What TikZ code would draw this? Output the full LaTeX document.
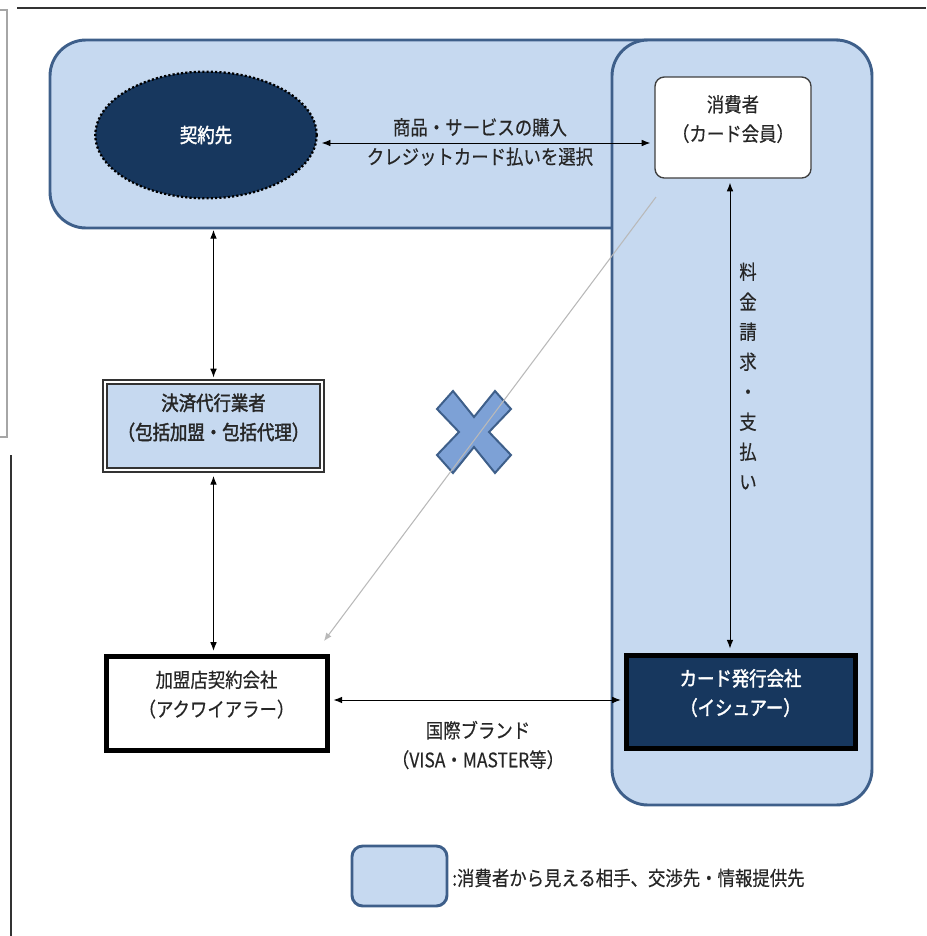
\documentclass[tikz,border=0pt]{standalone}
\usepackage{fontspec}
\newfontfamily\jp[FakeStretch=0.87,FakeBold=0.4]{Noto Sans CJK JP}
\newfontfamily\jpb[FakeStretch=0.87,FakeBold=1.8]{Noto Sans CJK JP}
\usetikzlibrary{shapes.geometric,arrows.meta,fit}
\definecolor{bandfill}{HTML}{C6D9F0}
\definecolor{bandline}{HTML}{3E5F8A}
\definecolor{navy}{HTML}{17375E}
\definecolor{xfill}{HTML}{7DA1D6}
\definecolor{txt}{HTML}{262626}
\tikzset{
  band/.style={fill=bandfill, draw=bandline, line width=2.2pt, rounded corners=27pt},
  arr/.style={{Latex[length=6.5pt,width=5pt]}-{Latex[length=6.5pt,width=5pt]}, line width=0.7pt, draw=black},
  reg/.style={font=\jp\fontsize{15pt}{22pt}\selectfont, text=txt},
  bld/.style={font=\jpb\fontsize{15pt}{22pt}\selectfont},
}
\begin{document}
\begin{tikzpicture}[x=0.75pt,y=-0.75pt]
\useasboundingbox (0,0) rectangle (926,936);
% page edge lines
\draw[gray!70, line width=1pt] (0,10) -- (7,10) -- (7,437) -- (0,437);
\draw[black!80, line width=1.2pt] (11,455) -- (11,936);
\draw[black!80, line width=1.2pt] (17,8) -- (926,8);
% bands
\draw[band] (50,40) rectangle (870,228);
\draw[band] (612,40) rectangle (872,805);
% nodes
\node[ellipse, fill=navy, draw=black, dash pattern=on 1.6pt off 1.6pt, line width=1.7pt,
      minimum width=166pt, minimum height=95pt, inner sep=0, text=white, bld] (kei) at (206,135) {契約先};
\node[fit={(655,77)(811,178)}, inner sep=0, draw=black!75, line width=1pt, fill=white,
      rounded corners=7pt, align=center, reg] (cons) {消費者\\（カード会員）};
\node[fit={(105,382)(322,470)}, inner sep=0, fill=bandfill, draw=black!80, line width=0.9pt,
      double=white, double distance=2pt, align=center, bld, text=txt] (settle) {決済代行業者\\（包括加盟・包括代理）};
\node[fit={(106,656)(327,750)}, inner sep=0, draw=black, line width=3.75pt, fill=white,
      align=center, reg] (acq) {加盟店契約会社\\（アクワイアラー）};
\node[fit={(626,655)(855,748)}, inner sep=0, draw=black, line width=3.75pt, fill=navy,
      text=white, align=center, bld] (iss) {カード発行会社\\（イシュアー）};
% X mark
\draw[fill=xfill, draw=bandline, line width=1.5pt, shift={(474,432)}]
  (-21,-41) -- (0,-15) -- (21,-41) -- (37,-23) -- (15,0) -- (37,23) -- (21,41)
  -- (0,15) -- (-21,41) -- (-37,23) -- (-15,0) -- (-37,-23) -- cycle;
% gray line
\coordinate (g1) at (656,197);
\coordinate (g2) at (324,641);
\draw[gray!55, line width=0.8pt, -{Latex[length=6pt,width=5pt]}] (g1) -- (g2);
% arrows
\draw[arr, shorten <=3pt, shorten >=3pt] (kei.east |- 0,143) -- (cons.west |- 0,143);
\coordinate (bandb) at (213.5,230);
\draw[arr, shorten >=3pt] (bandb) -- (settle.north);
\draw[arr, shorten <=4pt, shorten >=2pt] (settle.south) -- (settle.south |- acq.north);
\draw[arr, shorten <=3pt, shorten >=3pt] (cons.south -| 730,0) -- (iss.north -| 730,0);
\draw[arr, shorten <=3pt, shorten >=2pt] (acq.east |- 0,700) -- (iss.west |- 0,700);
% labels
\node[align=center, reg] (lab1) at (480,142) {商品・サービスの購入\\クレジットカード払いを選択};
\node[align=center, reg] (lab2) at (478,745) {国際ブランド\\（VISA・MASTER等）};
\node[align=center, font=\jp\fontsize{15pt}{22.5pt}\selectfont, text=txt] (vt) at (748,376) {料\\金\\請\\求\\・\\支\\払\\い};
% legend
\node[fit={(352,846)(447,906)}, inner sep=0, fill=bandfill, draw=bandline, line width=2.2pt, rounded corners=8pt] (leg) {};
\node[anchor=west, reg, inner sep=0] (legt) at (452,878) {:消費者から見える相手、交渉先・情報提供先};
\end{tikzpicture}
\end{document}
